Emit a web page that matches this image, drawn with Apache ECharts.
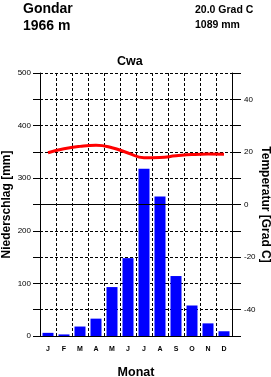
<!DOCTYPE html>
<html>
<head>
<meta charset="UTF-8">
<title>Gondar</title>
<style>
  html, body { margin: 0; padding: 0; background: #fff; }
  #chart { width: 271px; height: 377px; }
</style>
<script src="https://cdn.jsdelivr.net/npm/echarts@6/dist/echarts.min.js"></script>
</head>
<body>
<div id="chart"></div>
<script>
// Monatswerte Gondar
var months = ['J', 'F', 'M', 'A', 'M', 'J', 'J', 'A', 'S', 'O', 'N', 'D'];
var niederschlag = [6, 3, 18, 33, 93, 148, 318, 265, 114, 58, 24, 9];
var temperatur = [19.7, 21.2, 22.1, 22.5, 21.6, 19.6, 17.8, 17.9, 18.5, 19.0, 19.2, 19.1];

var station = 'Gondar\n1966 m';
var kennwerte = '20.0 Grad C\n1089 mm';
var klima = 'Cwa';

var FONT = '"Liberation Sans", Arial, sans-serif';
var dash = [3, 2];

var chart = echarts.init(document.getElementById('chart'));

chart.setOption({
  animation: false,
  textStyle: { fontFamily: FONT },
  title: [
    {
      text: station, left: 23, top: 1, padding: 0,
      textStyle: { fontSize: 14, fontWeight: 'bold', color: '#000', lineHeight: 17 }
    },
    {
      text: kennwerte, left: 195, top: 3, padding: 0,
      textStyle: { fontSize: 10.5, fontWeight: 'bold', color: '#000', lineHeight: 15 }
    },
    {
      text: klima, left: 117, top: 55, padding: 0,
      textStyle: { fontSize: 12.5, fontWeight: 'bold', color: '#000' }
    }
  ],
  grid: { left: 40, right: 39, top: 73, bottom: 41, outerBoundsMode: 'none' },
  xAxis: {
    type: 'category',
    data: months,
    boundaryGap: true,
    axisLine: { lineStyle: { color: '#000', width: 1 } },
    axisTick: { show: false },
    axisLabel: { color: '#000', fontSize: 7, fontWeight: 'bold', margin: 10 },
    splitLine: { show: true, lineStyle: { color: '#000', type: dash, width: 1 } },
    name: 'Monat',
    nameLocation: 'middle',
    nameGap: 30,
    nameMoveOverlap: false,
    nameTextStyle: { color: '#000', fontSize: 12.5, fontWeight: 'bold' }
  },
  yAxis: [
    {
      type: 'value',
      min: 0, max: 500, interval: 50,
      axisLine: { show: true, lineStyle: { color: '#000', width: 1 } },
      axisTick: { show: true, inside: false, length: 7, lineStyle: { color: '#000' } },
      axisLabel: {
        color: '#000', fontSize: 8, margin: 9,
        formatter: function (v) { return v % 100 === 0 ? String(v) : ''; }
      },
      splitLine: { show: true, lineStyle: { color: '#000', type: dash, width: 1 } },
      name: 'Niederschlag [mm]',
      nameLocation: 'middle',
      nameGap: 27,
      nameMoveOverlap: false,
      nameTextStyle: { color: '#000', fontSize: 12, fontWeight: 'bold' }
    },
    {
      type: 'value',
      position: 'right',
      min: -50, max: 50, interval: 10,
      axisLine: { show: true, lineStyle: { color: '#000', width: 1 } },
      axisTick: { show: true, inside: false, length: 9, lineStyle: { color: '#000' } },
      axisLabel: {
        color: '#000', fontSize: 8, margin: 12,
        formatter: function (v) { return v % 20 === 0 ? String(v) : ''; }
      },
      splitLine: { show: false },
      name: 'Temperatur [Grad C]',
      nameLocation: 'middle',
      nameRotate: -90,
      nameGap: 27,
      nameMoveOverlap: false,
      nameTextStyle: { color: '#000', fontSize: 12, fontWeight: 'bold' }
    }
  ],
  series: [
    {
      type: 'bar',
      yAxisIndex: 0,
      data: niederschlag,
      barWidth: 11,
      itemStyle: { color: '#0000ff' },
      markLine: {
        silent: true,
        symbol: 'none',
        label: { show: false },
        lineStyle: { color: '#000', type: 'solid', width: 1 },
        data: [{ yAxis: 250 }]
      }
    },
    {
      type: 'line',
      yAxisIndex: 1,
      data: temperatur,
      smooth: true,
      showSymbol: false,
      lineStyle: { color: '#ff0000', width: 3 },
      z: 5
    }
  ]
});
</script>
</body>
</html>
